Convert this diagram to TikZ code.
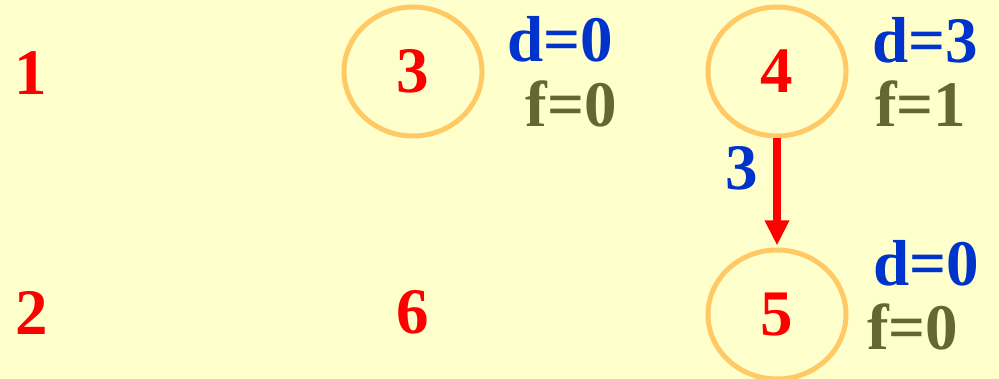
\documentclass[tikz,border=0pt]{standalone}
\usepackage{fontspec}
\setmainfont{Liberation Serif}
\usetikzlibrary{shapes.geometric,arrows.meta}
\definecolor{bgyellow}{HTML}{FFFFCC}
\definecolor{ringorange}{HTML}{FFC966}
\definecolor{numred}{HTML}{FF0000}
\definecolor{dblue}{HTML}{0033CC}
\definecolor{folive}{HTML}{666633}
\tikzset{
  vtx/.style={ellipse, draw=ringorange, line width=5pt, inner sep=0pt,
    minimum width=138pt, minimum height=129pt, text=numred,
    font=\fontsize{65}{65}\selectfont\bfseries},
  bare/.style={inner sep=0pt, text=numred, font=\fontsize{65}{65}\selectfont\bfseries},
  dlab/.style={inner sep=0pt, text=dblue, font=\fontsize{65}{65}\selectfont\bfseries},
  flab/.style={inner sep=0pt, text=folive, font=\fontsize{65}{65}\selectfont\bfseries},
  redarrow/.style={draw=numred, line width=8pt, -{Triangle[width=23pt,length=25pt]}}
}
\begin{document}
\begin{tikzpicture}[x=1pt,y=-1pt]
\fill[bgyellow] (0,0) rectangle (999,379);
\useasboundingbox (0,0) rectangle (999,379);
\node[bare, anchor=base] (n1) at (31,95) {1};
\node[bare, anchor=base] (n2) at (32,335) {2};
\node[bare] (n6) at (413,312) {6};
\node[vtx] (c3) at (413,71.5) {3};
\node[vtx] (c4) at (777,71.5) {4};
\node[vtx] (c5) at (777,314.5) {5};
\node[dlab, anchor=base west] (d3) at (507,62) {d=0};
\node[flab, anchor=base east] (f3) at (617,127) {f=0};
\node[dlab, anchor=base west] (d4) at (872,63) {d=3};
\node[flab, anchor=base west] (f4) at (875,127) {f=1};
\node[dlab, anchor=base west] (d5) at (873,286) {d=0};
\node[flab, anchor=base west] (f5) at (867,350) {f=0};
\draw[redarrow, shorten >=2pt] (c4.south) -- (c5.north);
\node[dlab, anchor=base] (w45) at (742,190) {3};
\end{tikzpicture}
\end{document}
